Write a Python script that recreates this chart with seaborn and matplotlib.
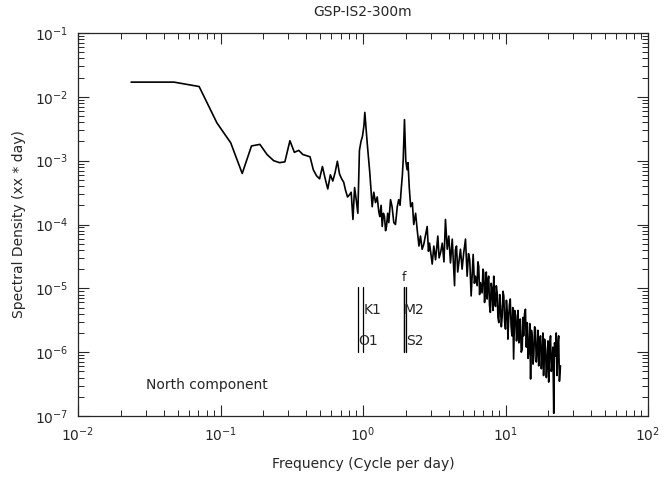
import numpy as np
import pandas as pd
import matplotlib
matplotlib.use("Agg")
import matplotlib.pyplot as plt
import matplotlib.ticker as mticker
import seaborn as sns

# frequency (cycle per day) and spectral density
freq = [
    0.0236, 0.0472, 0.0708, 0.0944, 0.118, 0.142, 0.165, 0.189, 0.212, 0.236,
    0.260, 0.283, 0.307, 0.330, 0.354, 0.378, 0.401, 0.425, 0.448, 0.472,
    0.496, 0.519, 0.543, 0.566, 0.590, 0.614, 0.637, 0.661, 0.684, 0.708,
    0.732, 0.755, 0.779, 0.802, 0.826, 0.850, 0.873, 0.897, 0.920, 0.944,
    0.968, 0.991, 1.015, 1.030, 1.07, 1.116, 1.16, 1.19, 1.224, 1.258,
    1.29, 1.312, 1.34, 1.364, 1.39, 1.415, 1.44, 1.462, 1.49, 1.517,
    1.56, 1.60, 1.645, 1.69, 1.74, 1.78, 1.82, 1.854, 1.89, 1.915,
    1.955, 1.996, 2.04, 2.07, 2.11, 2.16, 2.22, 2.27, 2.34, 2.40,
    2.47, 2.53, 2.60, 2.67, 2.75, 2.82, 2.88, 2.93, 3.06, 3.14,
    3.23, 3.35, 3.42, 3.50, 3.60, 3.70, 3.79, 3.90, 4.00, 4.11,
    4.23, 4.39, 4.45, 4.53, 4.62, 4.70, 4.83, 4.96, 5.09, 5.24,
    5.38, 5.50, 5.61, 5.74, 5.93, 6.05, 6.15, 6.32, 6.40, 6.49,
    6.58, 6.67, 6.85, 6.95, 7.03, 7.13, 7.23, 7.33, 7.43, 7.52,
    7.62, 7.72, 7.83, 7.94, 8.05, 8.16, 8.27, 8.39, 8.51, 8.62,
    8.74, 8.85, 8.97, 9.10, 9.22, 9.35, 9.48, 9.60, 9.73, 9.86,
    10.0, 10.15, 10.3, 10.4, 10.5, 10.65, 10.8, 10.95, 11.1, 11.25,
    11.4, 11.6, 11.8, 11.95, 12.1, 12.25, 12.4, 12.55, 12.7, 12.9,
    13.1, 13.25, 13.4, 13.6, 13.8, 14.0, 14.2, 14.4, 14.6, 14.8,
    15.0, 15.2, 15.4, 15.6, 15.8, 16.0, 16.2, 16.45, 16.7, 16.9,
    17.1, 17.35, 17.6, 17.85, 18.1, 18.3, 18.5, 18.8, 19.1, 19.35,
    19.6, 19.85, 20.1, 20.4, 20.7, 20.95, 21.2, 21.5, 21.8, 22.1,
    22.4, 22.7, 23.0, 23.3, 23.6, 23.9, 24.3,
]
density = [
    1.7e-2, 1.7e-2, 1.45e-2, 3.9e-3, 1.9e-3, 6.3e-4, 1.7e-3, 1.8e-3, 1.25e-3, 1.0e-3,
    9.3e-4, 9.6e-4, 2.05e-3, 1.35e-3, 1.45e-3, 1.25e-3, 1.2e-3, 1.15e-3, 7.2e-4, 5.8e-4,
    5.2e-4, 8.1e-4, 5.2e-4, 3.6e-4, 6.0e-4, 4.8e-4, 6.5e-4, 9.8e-4, 6.2e-4, 5.2e-4,
    4.6e-4, 3.4e-4, 2.7e-4, 2.9e-4, 3.2e-4, 1.2e-4, 3.8e-4, 2.4e-4, 1.5e-4, 1.45e-3,
    2.0e-3, 2.4e-3, 3.5e-3, 5.7e-3, 1.9e-3, 6.5e-4, 1.9e-4, 3.2e-4, 2.2e-4, 2.7e-4,
    1.6e-4, 1.33e-4, 2.0e-4, 9.3e-5, 1.5e-4, 1.33e-4, 8.0e-5, 9.3e-5, 1.5e-4, 1.07e-4,
    2.45e-4, 1.9e-4, 1.07e-4, 1.0e-4, 1.9e-4, 2.45e-4, 2.0e-4, 3.55e-4, 6.0e-4, 1.04e-3,
    4.4e-3, 1.0e-3, 7.2e-4, 9.3e-4, 3.9e-4, 1.9e-4, 2.2e-4, 1.0e-4, 1.5e-4, 8.3e-5,
    4.6e-5, 6.6e-5, 4.1e-5, 4.9e-5, 7.0e-5, 9.3e-5, 3.8e-5, 5.1e-5, 2.4e-5, 4.6e-5,
    2.8e-5, 6.6e-5, 3.0e-5, 3.6e-5, 5.1e-5, 2.6e-5, 1.2e-4, 4.1e-5, 6.6e-5, 2.5e-5,
    5.9e-5, 1.1e-5, 4.0e-5, 4.6e-5, 1.8e-5, 2.5e-5, 4.1e-5, 2.0e-5, 3.6e-5, 5.9e-5,
    1.55e-5, 3.5e-5, 2.8e-5, 7.6e-6, 3.4e-5, 1.2e-5, 1.55e-5, 1.1e-5, 2.6e-5, 2.2e-5,
    8.0e-6, 1.23e-5, 8.5e-6, 2.0e-5, 1.76e-5, 6.0e-6, 1.1e-5, 1.8e-5, 6.8e-6, 1.3e-5,
    1.55e-5, 5.5e-6, 4.2e-6, 1.2e-5, 9.6e-6, 4.5e-6, 1.55e-5, 6.0e-6, 5.2e-6, 1.1e-5,
    8.5e-6, 3.5e-6, 2.9e-6, 8.0e-6, 5.2e-6, 2.5e-6, 3.7e-6, 9.0e-6, 7.6e-6, 3.0e-6,
    2.3e-6, 6.5e-6, 4.2e-6, 1.6e-6, 2.9e-6, 5.5e-6, 6.8e-6, 2.5e-6, 1.8e-6, 5.0e-6,
    7.8e-7, 4.5e-6, 3.7e-6, 1.5e-6, 2.3e-6, 4.5e-6, 1.4e-6, 3.0e-6, 3.3e-6, 1.0e-6,
    1.1e-6, 3.5e-6, 1.8e-6, 4.0e-6, 4.7e-6, 1.2e-6, 2.9e-6, 8.0e-7, 1.1e-6, 2.8e-6,
    3.8e-7, 2.2e-6, 1.8e-6, 6.5e-7, 8.7e-7, 2.5e-6, 2.3e-6, 7.0e-7, 1.1e-6, 2.2e-6,
    6.1e-7, 1.5e-6, 1.8e-6, 5.5e-7, 1.0e-6, 2.0e-6, 4.3e-7, 1.6e-6, 1.1e-6, 4.0e-7,
    6.8e-7, 1.5e-6, 3.4e-7, 1.2e-6, 1.8e-6, 5.0e-7, 6.1e-7, 1.2e-6, 1.1e-7, 1.4e-6,
    8.7e-7, 2.0e-6, 4.3e-7, 1.3e-6, 1.8e-6, 3.5e-7, 6.1e-7,
]

# tidal constituents and inertial frequency marked on the plot
tide_names = ["O1", "K1", "f", "M2", "S2"]
tide_freq = [0.9295, 1.0027, 1.925, 1.9323, 2.0]

df = pd.DataFrame({"freq": freq, "psd": density})

sns.set_style("ticks")
plt.rcParams["font.family"] = ["DejaVu Sans"]

fig = plt.figure(figsize=(6.72, 4.82), dpi=100)
ax = fig.add_axes([78 / 672, 66 / 482, 570 / 672, 383 / 482])

sns.lineplot(data=df, x="freq", y="psd", color="black", linewidth=1.2,
             estimator=None, sort=False, ax=ax)

ax.set_xscale("log")
ax.set_yscale("log")
ax.set_xlim(1e-2, 1e2)
ax.set_ylim(1e-7, 1e-1)

# tidal lines
for name, fr in zip(tide_names, tide_freq):
    ax.plot([fr, fr], [1.0e-6, 1.05e-5], color="black", linewidth=0.9)

ax.text(1.01, 4.5e-6, "K1", fontsize=10, va="center", ha="left")
ax.text(0.93, 1.5e-6, "O1", fontsize=10, va="center", ha="left")
ax.text(1.93, 4.5e-6, "M2", fontsize=10, va="center", ha="left")
ax.text(2.0, 1.5e-6, "S2", fontsize=10, va="center", ha="left")
ax.text(1.935, 1.5e-5, "f", fontsize=9, va="center", ha="center")

ax.text(0.12, 0.08, "North component", transform=ax.transAxes,
        fontsize=10, va="center", ha="left")

ax.set_title("GSP-IS2-300m", fontsize=10, pad=12)
ax.set_xlabel("Frequency (Cycle per day)", fontsize=10, labelpad=9)
ax.set_ylabel("Spectral Density (xx * day)", fontsize=10, labelpad=6)

ax.xaxis.set_major_locator(mticker.LogLocator(base=10, numticks=10))
ax.xaxis.set_minor_locator(mticker.LogLocator(base=10, subs=range(2, 10), numticks=20))
ax.yaxis.set_major_locator(mticker.LogLocator(base=10, numticks=10))
ax.yaxis.set_minor_locator(mticker.LogLocator(base=10, subs=range(2, 10), numticks=20))
ax.xaxis.set_minor_formatter(mticker.NullFormatter())
ax.yaxis.set_minor_formatter(mticker.NullFormatter())

ax.tick_params(which="both", direction="in", top=True, right=True, labelsize=10)
ax.tick_params(which="major", length=8, width=0.8, pad=7)
ax.tick_params(which="minor", length=4, width=0.7)
for s in ax.spines.values():
    s.set_linewidth(0.9)

fig.savefig("out.png", dpi=100)
